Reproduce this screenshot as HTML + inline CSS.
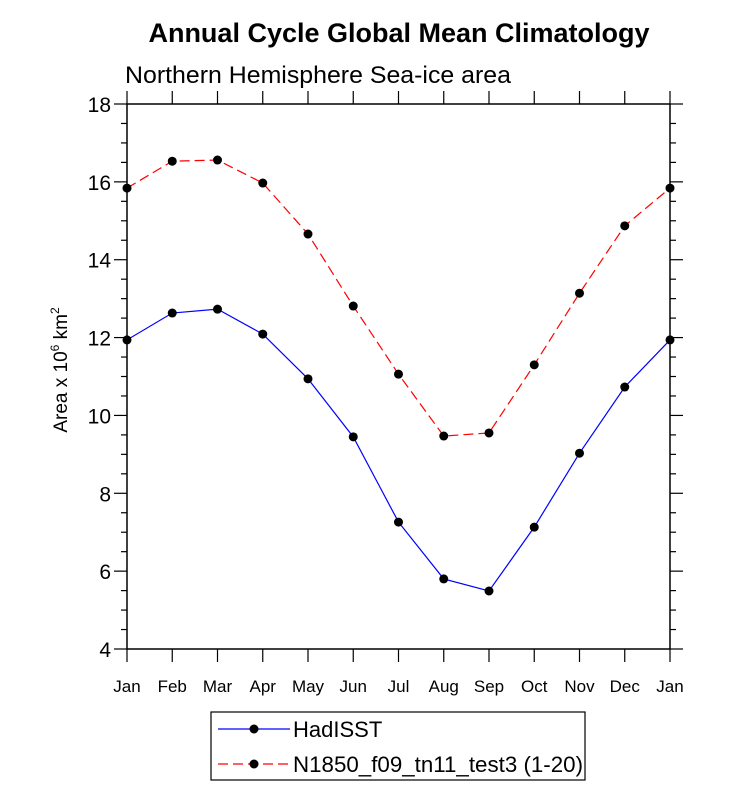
<!DOCTYPE html>
<html><head><meta charset="utf-8"><style>
body{margin:0;background:#fff}
svg text{font-family:"Liberation Sans",sans-serif}
</style></head><body>
<svg id="chart" width="733" height="790" xmlns="http://www.w3.org/2000/svg">
<text x="399" y="42" text-anchor="middle" font-size="27" font-weight="bold">Annual Cycle Global Mean Climatology</text>
<text x="125" y="83" font-size="24" textLength="386" lengthAdjust="spacingAndGlyphs">Northern Hemisphere Sea-ice area</text>
<text transform="translate(67,370) rotate(-90)" text-anchor="middle" font-size="19">Area x 10<tspan dy="-8" font-size="12">6</tspan><tspan dy="8"> km</tspan><tspan dy="-8" font-size="12">2</tspan></text>
<g id="axes"></g>
<g id="series"></g>
<g>
<rect x="211" y="712" width="374" height="68" fill="#fff" stroke="#000" stroke-width="1.2"/>
<g>
<line x1="218" y1="729" x2="290" y2="729" stroke="#0000ff" stroke-width="1.2"/>
<circle cx="254" cy="729" r="4.5" fill="#000"/>
<text x="293" y="737" font-size="22">HadISST</text></g>
<g>
<line x1="218" y1="764" x2="290" y2="764" stroke="#ff0000" stroke-width="1.2" stroke-dasharray="10,5"/>
<circle cx="254" cy="764" r="4.5" fill="#000"/>
<text x="293" y="772" font-size="22" textLength="290" lengthAdjust="spacingAndGlyphs">N1850_f09_tn11_test3 (1-20)</text></g>
</g>
</svg>
<script>
const months=["Jan","Feb","Mar","Apr","May","Jun","Jul","Aug","Sep","Oct","Nov","Dec","Jan"];
const hadisst=[11.94,12.63,12.73,12.09,10.94,9.45,7.26,5.80,5.49,7.13,9.03,10.73,11.94];
const model=[15.84,16.53,16.56,15.97,14.66,12.81,11.06,9.47,9.55,11.30,13.14,14.87,15.84];
const yTicks=[4,6,8,10,12,14,16,18];
const NS="http://www.w3.org/2000/svg";
const X0=127,X1=670,Y0=649,Y1=104,YMIN=4,YMAX=18;
const xs=i=>X0+(X1-X0)*i/(months.length-1);
const ys=v=>Y0-(Y0-Y1)*(v-YMIN)/(YMAX-YMIN);
function mk(t,a,p){const e=document.createElementNS(NS,t);for(const k in a)e.setAttribute(k,a[k]);p.appendChild(e);return e;}
const ax=document.getElementById('axes');
const fr=mk('rect',{x:X0,y:Y1,width:X1-X0,height:Y0-Y1,fill:'none',stroke:'#000','stroke-width':1.5},ax);


months.forEach((m,i)=>{const x=xs(i);
mk('line',{x1:x,y1:Y0,x2:x,y2:Y0+13,stroke:'#000','stroke-width':1.2},ax);
mk('line',{x1:x,y1:Y1,x2:x,y2:Y1-13,stroke:'#000','stroke-width':1.2},ax);
const t=mk('text',{x:x,y:Y0+43,'text-anchor':'middle','font-size':17},ax);t.textContent=m;

});
for(let v=YMIN;v<=YMAX+0.001;v+=0.5){const y=ys(v);const maj=Math.abs(v%2)<0.01;const L=maj?13:6;
mk('line',{x1:X0-L,y1:y,x2:X0,y2:y,stroke:'#000','stroke-width':1.2},ax);
mk('line',{x1:X1,y1:y,x2:X1+L,y2:y,stroke:'#000','stroke-width':1.2},ax);}
yTicks.forEach(v=>{const t=mk('text',{x:X0-16,y:ys(v)+8,'text-anchor':'end','font-size':21},ax);t.textContent=v;

});
const sg=document.getElementById('series');
function draw(data,color,dash,name){const g=mk('g',{},sg);


const a={points:data.map((v,i)=>xs(i)+','+ys(v)).join(' '),fill:'none',stroke:color,'stroke-width':1.2};if(dash)a['stroke-dasharray']=dash;
mk('polyline',a,g);
data.forEach((v,i)=>{const c=mk('circle',{cx:xs(i),cy:ys(v),r:4.5,fill:'#000'},g);

});}
draw(model,'#ff0000','10,5','model-series');
draw(hadisst,'#0000ff',null,'hadisst-series');
</script>
</body></html>
